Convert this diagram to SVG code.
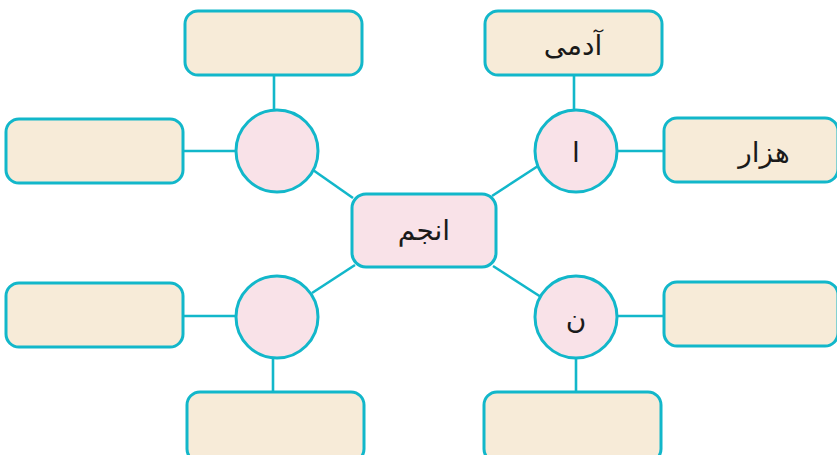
<svg xmlns="http://www.w3.org/2000/svg" width="837" height="455" viewBox="0 0 837 455">
<style>
.box{fill:#F7EBD8;stroke:#12B7CA;stroke-width:3}
.c{fill:#F9E2E8;stroke:#12B7CA;stroke-width:3}
.ln{stroke:#12B7CA;stroke-width:2.6;fill:none}
text{font-family:"DejaVu Sans",sans-serif;font-size:28px;fill:#1a1a1a;text-anchor:middle;dominant-baseline:central}
</style>
<rect width="837" height="455" fill="#fff"/>
<g id="connectors">
<line class="ln" x1="274" y1="75" x2="274" y2="111"/>
<line class="ln" x1="183" y1="151" x2="236" y2="151"/>
<line class="ln" x1="313" y1="170" x2="353" y2="198"/>
<line class="ln" x1="574" y1="75" x2="574" y2="110"/>
<line class="ln" x1="617" y1="151" x2="664" y2="151"/>
<line class="ln" x1="538" y1="166" x2="492" y2="196"/>
<line class="ln" x1="493" y1="266" x2="541" y2="297"/>
<line class="ln" x1="617" y1="316" x2="664" y2="316"/>
<line class="ln" x1="576" y1="358" x2="576" y2="392"/>
<line class="ln" x1="355" y1="265" x2="312" y2="293"/>
<line class="ln" x1="183" y1="316" x2="236" y2="316"/>
<line class="ln" x1="273" y1="358" x2="273" y2="392"/>
</g>
<g id="center"><rect class="c" x="352" y="194" width="144" height="73" rx="14"/><text x="424" y="230">انجم</text></g>
<g id="c-ul"><circle class="c" cx="277" cy="151" r="41"/></g>
<g id="c-ur"><circle class="c" cx="576" cy="151" r="41"/><text x="576" y="152">ا</text></g>
<g id="c-lr"><circle class="c" cx="576" cy="317" r="41"/><text x="576" y="318">ن</text></g>
<g id="c-ll"><circle class="c" cx="277" cy="317" r="41"/></g>
<g id="b-ul-top"><rect class="box" x="185" y="11" width="177" height="64" rx="13"/></g>
<g id="b-ul-left"><rect class="box" x="6" y="119" width="177" height="64" rx="13"/></g>
<g id="b-ur-top"><rect class="box" x="485" y="11" width="177" height="64" rx="13"/><text x="573" y="45">آدمی</text></g>
<g id="b-ur-right"><rect class="box" x="664" y="118" width="174" height="64" rx="13"/><text x="764" y="152">هزار</text></g>
<g id="b-lr-right"><rect class="box" x="664" y="282" width="174" height="64" rx="13"/></g>
<g id="b-lr-bottom"><rect class="box" x="484" y="392" width="177" height="70" rx="13"/></g>
<g id="b-ll-left"><rect class="box" x="6" y="283" width="177" height="64" rx="13"/></g>
<g id="b-ll-bottom"><rect class="box" x="187" y="392" width="177" height="70" rx="13"/></g>
</svg>
